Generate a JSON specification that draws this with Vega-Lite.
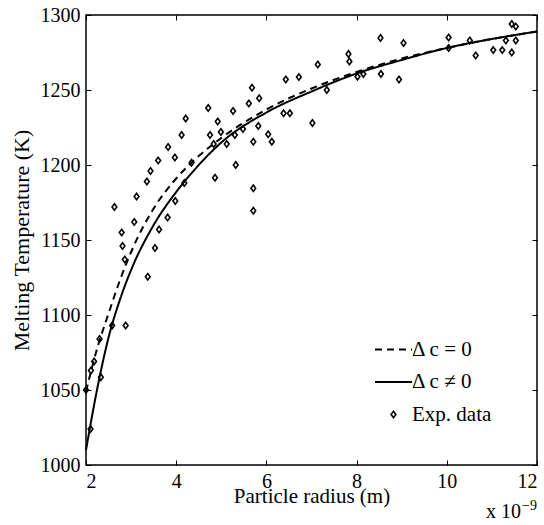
{
  "$schema": "https://vega.github.io/schema/vega-lite/v6.json",
  "width": 451,
  "height": 450,
  "autosize": {"type": "none"},
  "padding": {"left": 86, "top": 15, "right": 7, "bottom": 60},
  "background": "white",
  "config": {
    "view": {"stroke": "black", "strokeWidth": 1.5},
    "font": "Liberation Serif",
    "axis": {
      "labelFont": "Liberation Serif",
      "titleFont": "Liberation Serif",
      "labelColor": "black",
      "titleColor": "black",
      "labelFontSize": 20,
      "titleFontSize": 21,
      "titleFontWeight": "normal",
      "grid": false,
      "domain": false,
      "tickColor": "black",
      "tickSize": -5,
      "tickWidth": 1
    }
  },
  "resolve": {"axis": {"x": "independent", "y": "independent"}},
  "layer": [
    {
      "data": {
        "values": [
          {"r": 2.0, "T": 1010, "series": "Δ c ≠ 0"},
          {"r": 2.25, "T": 1051, "series": "Δ c ≠ 0"},
          {"r": 2.5, "T": 1085, "series": "Δ c ≠ 0"},
          {"r": 2.75, "T": 1110, "series": "Δ c ≠ 0"},
          {"r": 3.0, "T": 1130, "series": "Δ c ≠ 0"},
          {"r": 3.5, "T": 1160, "series": "Δ c ≠ 0"},
          {"r": 4.0, "T": 1182, "series": "Δ c ≠ 0"},
          {"r": 4.5, "T": 1200, "series": "Δ c ≠ 0"},
          {"r": 5.0, "T": 1215, "series": "Δ c ≠ 0"},
          {"r": 6.0, "T": 1235, "series": "Δ c ≠ 0"},
          {"r": 7.0, "T": 1249, "series": "Δ c ≠ 0"},
          {"r": 8.0, "T": 1261, "series": "Δ c ≠ 0"},
          {"r": 9.0, "T": 1270, "series": "Δ c ≠ 0"},
          {"r": 10.0, "T": 1278, "series": "Δ c ≠ 0"},
          {"r": 11.0, "T": 1284, "series": "Δ c ≠ 0"},
          {"r": 12.0, "T": 1289, "series": "Δ c ≠ 0"},
          {"r": 2.0, "T": 1049, "series": "Δ c = 0"},
          {"r": 2.25, "T": 1078, "series": "Δ c = 0"},
          {"r": 2.5, "T": 1101, "series": "Δ c = 0"},
          {"r": 2.75, "T": 1123, "series": "Δ c = 0"},
          {"r": 3.0, "T": 1142, "series": "Δ c = 0"},
          {"r": 3.5, "T": 1171, "series": "Δ c = 0"},
          {"r": 4.0, "T": 1191, "series": "Δ c = 0"},
          {"r": 4.5, "T": 1206, "series": "Δ c = 0"},
          {"r": 5.0, "T": 1218, "series": "Δ c = 0"},
          {"r": 6.0, "T": 1237, "series": "Δ c = 0"},
          {"r": 7.0, "T": 1251, "series": "Δ c = 0"},
          {"r": 8.0, "T": 1262, "series": "Δ c = 0"},
          {"r": 9.0, "T": 1271, "series": "Δ c = 0"},
          {"r": 10.0, "T": 1278, "series": "Δ c = 0"},
          {"r": 11.0, "T": 1284, "series": "Δ c = 0"},
          {"r": 12.0, "T": 1289, "series": "Δ c = 0"}
        ]
      },
      "mark": {"type": "line", "color": "black", "strokeWidth": 2, "interpolate": "monotone"},
      "encoding": {
        "x": {
          "field": "r", "type": "quantitative",
          "scale": {"domain": [2, 12], "nice": false, "zero": false},
          "axis": {"orient": "bottom", "values": [2, 4, 6, 8, 10, 12], "title": "Particle radius (m)", "labelPadding": 11, "titlePadding": -6}
        },
        "y": {
          "field": "T", "type": "quantitative",
          "scale": {"domain": [1000, 1300], "nice": false, "zero": false},
          "axis": {"orient": "left", "values": [1000, 1050, 1100, 1150, 1200, 1250, 1300], "format": "d", "title": "Melting Temperature (K)", "titleFontSize": 22, "labelPadding": 11, "titlePadding": 7}
        },
        "strokeDash": {
          "field": "series", "type": "nominal",
          "scale": {"domain": ["Δ c = 0", "Δ c ≠ 0", "Exp. data"], "range": [[7, 5], [1, 0], [1, 0]]},
          "legend": {
            "orient": "none",
            "legendX": 289,
            "legendY": 324,
            "title": null,
            "padding": 0,
            "symbolType": "stroke",
            "symbolSize": 1369,
            "symbolStrokeWidth": 2,
            "symbolStrokeColor": "black",
            "symbolOffset": 8,
            "labelFont": "Liberation Serif",
            "labelFontSize": 21,
            "labelColor": "black",
            "labelOffset": 8,
            "labelLimit": 300,
            "rowPadding": 10.5,
            "encode": {
              "symbols": {
                "update": {
                  "shape": {"signal": "datum.value === 'Exp. data' ? 'M0,-1L0.75,0L0,1L-0.75,0Z' : 'stroke'"},
                  "size": {"signal": "datum.value === 'Exp. data' ? 40 : 1369"},
                  "strokeWidth": {"signal": "datum.value === 'Exp. data' ? 1.6 : 2"}
                }
              }
            }
          }
        }
      }
    },
    {
      "data": {
        "values": [
          {"r": 2.00, "T": 1050}, {"r": 2.10, "T": 1024}, {"r": 2.11, "T": 1063}, {"r": 2.18, "T": 1069},
          {"r": 2.30, "T": 1084}, {"r": 2.33, "T": 1058.5}, {"r": 2.58, "T": 1093}, {"r": 2.88, "T": 1093},
          {"r": 2.63, "T": 1172}, {"r": 2.79, "T": 1155}, {"r": 2.81, "T": 1146}, {"r": 2.86, "T": 1137},
          {"r": 3.07, "T": 1162}, {"r": 3.12, "T": 1179}, {"r": 3.35, "T": 1189}, {"r": 3.37, "T": 1125.5},
          {"r": 3.43, "T": 1196}, {"r": 3.53, "T": 1144.7}, {"r": 3.60, "T": 1203}, {"r": 3.62, "T": 1157},
          {"r": 3.81, "T": 1165}, {"r": 3.82, "T": 1212}, {"r": 3.97, "T": 1205}, {"r": 3.98, "T": 1176},
          {"r": 4.12, "T": 1220}, {"r": 4.18, "T": 1188}, {"r": 4.21, "T": 1231}, {"r": 4.34, "T": 1201.5},
          {"r": 4.71, "T": 1238}, {"r": 4.75, "T": 1220}, {"r": 4.83, "T": 1214}, {"r": 4.86, "T": 1191.5},
          {"r": 4.92, "T": 1229}, {"r": 4.99, "T": 1222}, {"r": 5.12, "T": 1214}, {"r": 5.26, "T": 1236},
          {"r": 5.30, "T": 1220}, {"r": 5.32, "T": 1200}, {"r": 5.48, "T": 1224}, {"r": 5.61, "T": 1241},
          {"r": 5.68, "T": 1251.5}, {"r": 5.71, "T": 1215.5}, {"r": 5.71, "T": 1184.5}, {"r": 5.71, "T": 1169.5},
          {"r": 5.82, "T": 1226}, {"r": 5.84, "T": 1244.5}, {"r": 6.04, "T": 1220.5}, {"r": 6.12, "T": 1215.5},
          {"r": 6.38, "T": 1234.5}, {"r": 6.52, "T": 1234.5}, {"r": 6.43, "T": 1257}, {"r": 6.72, "T": 1258.6},
          {"r": 7.02, "T": 1228}, {"r": 7.14, "T": 1267}, {"r": 7.34, "T": 1250}, {"r": 7.82, "T": 1274},
          {"r": 7.84, "T": 1269}, {"r": 8.02, "T": 1258.8}, {"r": 8.15, "T": 1260.6}, {"r": 8.53, "T": 1284.7},
          {"r": 8.54, "T": 1260.7}, {"r": 8.94, "T": 1257}, {"r": 9.04, "T": 1281.3}, {"r": 10.04, "T": 1285},
          {"r": 10.04, "T": 1278}, {"r": 10.51, "T": 1283}, {"r": 10.64, "T": 1273}, {"r": 11.03, "T": 1276.6},
          {"r": 11.23, "T": 1276.6}, {"r": 11.31, "T": 1283}, {"r": 11.44, "T": 1275}, {"r": 11.44, "T": 1294},
          {"r": 11.53, "T": 1292.3}, {"r": 11.53, "T": 1283}
        ]
      },
      "mark": {"type": "point", "shape": "M0,-1L0.75,0L0,1L-0.75,0Z", "size": 40, "stroke": "black", "strokeWidth": 1.6, "filled": false, "opacity": 1},
      "encoding": {
        "x": {
          "field": "r", "type": "quantitative",
          "axis": {"orient": "top", "values": [2, 4, 6, 8, 10, 12], "labels": false, "title": null}
        },
        "y": {
          "field": "T", "type": "quantitative",
          "axis": {"orient": "right", "values": [1000, 1050, 1100, 1150, 1200, 1250, 1300], "labels": false, "title": null}
        }
      }
    },
    {
      "data": {"values": [{"base": "x 10", "exp": "−9"}]},
      "layer": [
        {
          "mark": {"type": "text", "font": "Liberation Serif", "fontSize": 20, "color": "black", "align": "right", "baseline": "alphabetic", "dx": -16, "dy": 53},
          "encoding": {
            "x": {"datum": 12, "type": "quantitative", "axis": null},
            "y": {"datum": 1000, "type": "quantitative", "axis": null},
            "text": {"field": "base"}
          }
        },
        {
          "mark": {"type": "text", "font": "Liberation Serif", "fontSize": 14, "color": "black", "align": "left", "baseline": "alphabetic", "dx": -15, "dy": 45},
          "encoding": {
            "x": {"datum": 12, "type": "quantitative", "axis": null},
            "y": {"datum": 1000, "type": "quantitative", "axis": null},
            "text": {"field": "exp"}
          }
        }
      ]
    }
  ]
}
